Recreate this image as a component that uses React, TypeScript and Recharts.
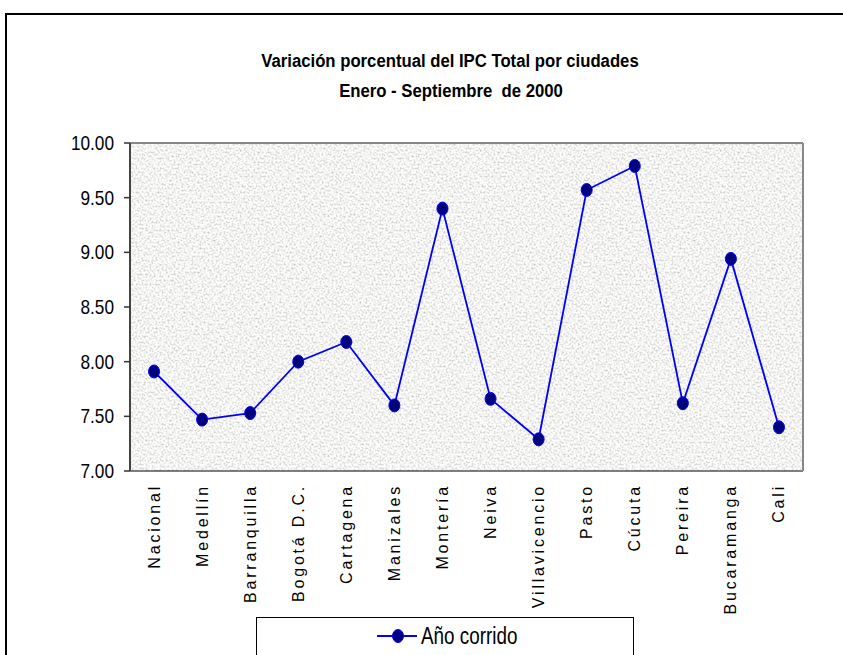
import React from "react";
import {
  LineChart,
  Line,
  XAxis,
  YAxis,
  CartesianGrid,
  Legend,
  ReferenceLine,
} from "recharts";

const cities = [
  "Nacional",
  "Medellín",
  "Barranquilla",
  "Bogotá D.C.",
  "Cartagena",
  "Manizales",
  "Montería",
  "Neiva",
  "Villavicencio",
  "Pasto",
  "Cúcuta",
  "Pereira",
  "Bucaramanga",
  "Cali",
];
const anoCorrido = [7.91, 7.47, 7.53, 8.0, 8.18, 7.6, 9.4, 7.66, 7.29, 9.57, 9.79, 7.62, 8.94, 7.4];
const yTicks = [7.0, 7.5, 8.0, 8.5, 9.0, 9.5, 10.0];
const boundaryTicks = cities.map((_, i) => i).concat([cities.length]);
const titleLines = ["Variación porcentual del IPC Total por ciudades", "Enero - Septiembre  de 2000"];
const seriesName = "Año corrido";

const data = cities.map((c, i) => ({ city: c, value: anoCorrido[i] }));

const SANS = "'Liberation Sans', Arial, sans-serif";

const Dot = (props: any) => {
  const { cx, cy } = props;
  if (cx == null || cy == null) return null;
  return <ellipse cx={cx} cy={cy} rx={5.5} ry={6.5} fill="#000080" stroke="#0000ff" strokeWidth={1} />;
};

const CityTick = (props: any) => {
  const { x, y, payload } = props;
  return (
    <text
      transform={`translate(${x},${y + 5}) rotate(-90)`}
      textAnchor="end"
      dominantBaseline="central"
      fontFamily={SANS}
      fontSize={16}
      letterSpacing={2.8}
      fill="#000"
    >
      {payload.value}
    </text>
  );
};

const ValueTick = (props: any) => {
  const { x, y, payload } = props;
  return (
    <text
      transform={`translate(${x},${y}) scale(0.82,1)`}
      textAnchor="end"
      dominantBaseline="central"
      fontFamily={SANS}
      fontSize={21}
      fill="#000"
    >
      {Number(payload.value).toFixed(2)}
    </text>
  );
};

const LegendContent = () => (
  <div
    style={{
      width: 378,
      height: 44,
      border: "1px solid #000",
      background: "#fff",
      boxSizing: "border-box",
      position: "relative",
    }}
  >
    <svg width={378} height={40} style={{ position: "absolute", left: 0, top: 0 }}>
      <line x1={120} y1={18} x2={160} y2={18} stroke="#0000ff" strokeWidth={2} />
      <ellipse cx={141} cy={18} rx={5.5} ry={6.5} fill="#000080" stroke="#0000ff" />
      <text
        transform="translate(164,18) scale(0.82,1)"
        dominantBaseline="central"
        fontFamily={SANS}
        fontSize={23}
        fill="#000"
      >
        {seriesName}
      </text>
    </svg>
  </div>
);

export default function App() {
  return (
    <div
      style={{
        position: "absolute",
        left: 0,
        top: 0,
        width: 843,
        height: 655,
        overflow: "hidden",
        background: "#fff",
      }}
    >
      <div
        style={{
          position: "absolute",
          left: 5,
          top: 13,
          width: 900,
          height: 800,
          border: "2px solid #000",
          boxSizing: "border-box",
        }}
      />
      <div style={{ position: "absolute", left: 0, top: 0 }}>
        <LineChart
          width={843}
          height={655}
          data={data}
          margin={{ top: 143, right: 0, left: 0, bottom: 10 }}
        >
          <defs>
            <filter id="noiseF" x="0" y="0" width="100%" height="100%">
              <feTurbulence type="fractalNoise" baseFrequency="0.5" numOctaves={2} seed={7} />
              <feColorMatrix
                type="matrix"
                values="0.95 0 0 0 0.42  0.95 0 0 0 0.42  0.95 0 0 0 0.41  0 0 0 0 1"
              />
            </filter>
            <pattern id="tex" patternUnits="userSpaceOnUse" width={240} height={240}>
              <rect width={240} height={240} filter="url(#noiseF)" />
            </pattern>
          </defs>
          <text x={450} y={61} textAnchor="middle" dominantBaseline="central"
            transform="translate(450,0) scale(0.88,1) translate(-450,0)"
            fontFamily={SANS} fontWeight="bold" fontSize={19} fill="#000">
            {titleLines[0]}
          </text>
          <text x={451} y={91} textAnchor="middle" dominantBaseline="central"
            transform="translate(451,0) scale(0.88,1) translate(-451,0)"
            fontFamily={SANS} fontWeight="bold" fontSize={19} fill="#000" style={{ whiteSpace: "pre" }}>
            {titleLines[1]}
          </text>
          <CartesianGrid
            vertical={false}
            horizontal={true}
            stroke="#000"
            strokeWidth={1}
            fill="url(#tex)"
            fillOpacity={1}
          />
          <XAxis
            xAxisId="num"
            type="number"
            dataKey="none"
            domain={[0, cities.length]}
            ticks={boundaryTicks}
            tick={false}
            tickSize={6}
            height={0}
            axisLine={{ stroke: "#333", strokeWidth: 2 }}
            tickLine={{ stroke: "#333", strokeWidth: 1.5 }}
            allowDataOverflow
          />
          <XAxis
            xAxisId="cat"
            dataKey="city"
            scale="band"
            height={130}
            axisLine={false}
            tickLine={false}
            interval={0}
            tick={<CityTick />}
          />
          <YAxis
            yAxisId="left"
            domain={[7, 10]}
            ticks={yTicks}
            width={130}
            tickSize={6}
            tickMargin={10}
            tick={<ValueTick />}
            axisLine={{ stroke: "#444", strokeWidth: 2 }}
            tickLine={{ stroke: "#333", strokeWidth: 1.5 }}
            interval={0}
          />
          <YAxis
            yAxisId="right"
            orientation="right"
            domain={[7, 10]}
            width={40}
            tick={false}
            tickLine={false}
            axisLine={{ stroke: "#888", strokeWidth: 2 }}
          />
          <ReferenceLine yAxisId="left" xAxisId="cat" y={10} stroke="#888" strokeWidth={2} />
          <Line
            xAxisId="cat"
            yAxisId="left"
            dataKey="value"
            name={seriesName}
            stroke="#0000ff"
            strokeWidth={1.8}
            dot={<Dot />}
            activeDot={false}
            isAnimationActive={false}
          />
          <Legend
            verticalAlign="bottom"
            content={<LegendContent />}
            wrapperStyle={{ position: "absolute", left: 256, top: 617, bottom: "auto", width: 378, height: 44 }}
          />
        </LineChart>
      </div>
    </div>
  );
}
